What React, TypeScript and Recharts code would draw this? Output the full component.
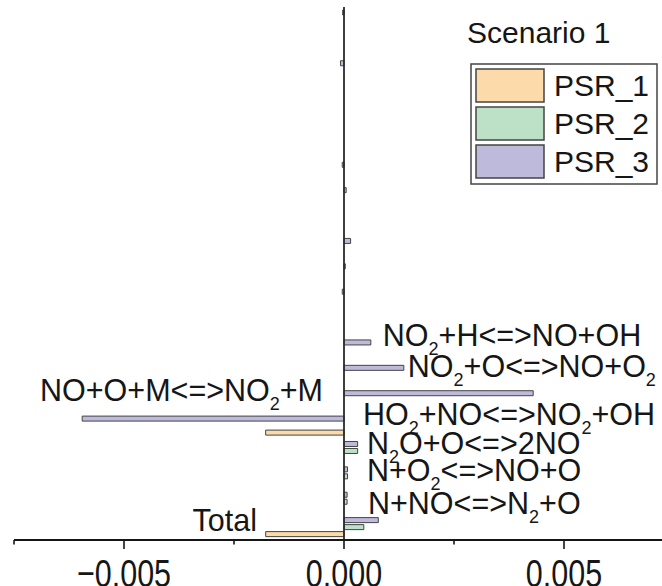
import React from 'react';
import { BarChart, Bar, XAxis, YAxis, ReferenceLine, LabelList } from 'recharts';

// categories from top to bottom; the unnamed ones are not labelled in the figure
const reactions = [
  'R1', 'R2', 'R3', 'R4', 'R5', 'R6', 'R7', 'R8', 'R9', 'R10', 'R11', 'R12', 'R13',
  'NO2+H<=>NO+OH',
  'NO2+O<=>NO+O2',
  'HO2+NO<=>NO2+OH',
  'NO+O+M<=>NO2+M',
  'N2O+O<=>2NO',
  'N+O2<=>NO+O',
  'N+NO<=>N2+O',
  'Total',
];

const psr1 = [0, 0, 0, 0, 0, 0, 0, 0, 0, 0, 0, 0, 0, 0, 0, 0, -0.00178, 0, 0, 0, -0.00178];
const psr2 = [0, 0, 0, 0, 0, 0, 0, 0, 0, 0, 0, 0, 0, 0, 0, 0, 0, 0.00031, 0.00008, 0.00007, 0.00045];
const psr3 = [
  -0.00003, 0, -0.00008, 0, 0, 0, -0.00004, 0.00005, 0, 0.00015, 0.00003, -0.00004, 0,
  0.00061, 0.00136, 0.0043, -0.00595, 0.00031, 0.00008, 0.00007, 0.00078,
];

const xTicks = [-0.0075, -0.005, -0.0025, 0, 0.0025, 0.005, 0.0075];
const majorTicks = [-0.005, 0, 0.005];

const series = [
  { key: 'PSR_1', color: '#FCDAAA' },
  { key: 'PSR_2', color: '#BCE1C6' },
  { key: 'PSR_3', color: '#BEBADC' },
];

const data = reactions.map((name, i) => ({
  name,
  PSR_1: psr1[i],
  PSR_2: psr2[i],
  PSR_3: psr3[i],
}));

const FONT = '"Liberation Sans", Arial, sans-serif';
const INK = '#161616';
const EDGE = '#444';

type Place = { from: 'zero' | 'end'; dx: number; dy: number; anchor: 'start' | 'end' };

// where each reaction name sits relative to its bar
const purplePlaces: Record<string, Place> = {
  'NO2+H<=>NO+OH': { from: 'end', dx: 12, dy: 3.4, anchor: 'start' },
  'NO2+O<=>NO+O2': { from: 'end', dx: 4, dy: 8.7, anchor: 'start' },
  'HO2+NO<=>NO2+OH': { from: 'zero', dx: 19, dy: 31.6, anchor: 'start' },
  'NO+O+M<=>NO2+M': { from: 'zero', dx: -21, dy: -18, anchor: 'end' },
  'N2O+O<=>2NO': { from: 'zero', dx: 23, dy: 9.8, anchor: 'start' },
  'N+O2<=>NO+O': { from: 'zero', dx: 23, dy: 12.1, anchor: 'start' },
  'N+NO<=>N2+O': { from: 'zero', dx: 24, dy: 19.1, anchor: 'start' },
};
const orangePlaces: Record<string, Place> = {
  Total: { from: 'end', dx: -8.7, dy: -3.3, anchor: 'end' },
};

// digits right after a letter are subscripts (NO2, N2O), a leading coefficient is not (2NO)
function formulaSpans(s: string) {
  const parts: { t: string; sub: boolean }[] = [];
  for (let i = 0; i < s.length; i++) {
    const ch = s[i];
    const sub = /\d/.test(ch) && i > 0 && /[A-Za-z]/.test(s[i - 1]);
    const last = parts[parts.length - 1];
    if (last && last.sub === sub) last.t += ch;
    else parts.push({ t: ch, sub });
  }
  const out: React.ReactNode[] = [];
  let shifted = false;
  parts.forEach((p, i) => {
    if (p.sub) {
      out.push(<tspan key={i} dy={9} fontSize={18}>{p.t}</tspan>);
      shifted = true;
    } else {
      out.push(<tspan key={i} dy={shifted ? -9 : 0}>{p.t}</tspan>);
      shifted = false;
    }
  });
  return out;
}

function BarLabel(props: any, places: Record<string, Place>) {
  const place = places[props.value];
  if (!place) return null;
  const vb = props.viewBox ?? props;
  const x = Number(vb.x);
  const w = Number(vb.width);
  const y = Number(vb.y);
  const h = Number(vb.height);
  const left = Math.min(x, x + w);
  const right = Math.max(x, x + w);
  const negative = w < 0 || props.value === 'NO+O+M<=>NO2+M' || props.value === 'Total';
  const zero = negative ? right : left;
  const end = negative ? left : right;
  const cy = y + h / 2;
  const bx = (place.from === 'zero' ? zero : end) + place.dx;
  return (
    <text
      key={props.value}
      x={bx}
      y={cy + place.dy}
      textAnchor={place.anchor}
      fontSize={30.5}
      fontFamily={FONT}
      fill={INK}
    >
      {formulaSpans(String(props.value))}
    </text>
  );
}

function fmt(v: number) {
  if (v === 0) return '0.000';
  return v < 0 ? `\u2212${Math.abs(v).toFixed(3)}` : v.toFixed(3);
}

// the tick numbers in the figure are drawn taller than wide and run off the bottom edge
function AxisTick(props: any) {
  const { x, y, payload } = props;
  const v = Number(payload.value);
  const major = majorTicks.some((m) => Math.abs(m - v) < 1e-9);
  return (
    <g>
      <line x1={x} x2={x} y1={y} y2={y + (major ? 9 : 4.5)} stroke={INK} strokeWidth={1.6} />
      {major && (
        <text
          transform={`translate(${x}, ${y + 47}) scale(1, 1.3)`}
          x={0}
          y={0}
          textAnchor="middle"
          fontSize={30.5}
          fontFamily={FONT}
          fill={INK}
        >
          {fmt(v)}
        </text>
      )}
    </g>
  );
}

export default function App() {
  return (
    <div
      style={{
        position: 'absolute',
        left: 0,
        top: 0,
        width: 662,
        height: 586,
        overflow: 'hidden',
        background: '#fff',
        fontFamily: FONT,
      }}
    >
      <BarChart
        width={680}
        height={586}
        data={data}
        layout="vertical"
        margin={{ top: 7, right: 6, bottom: 0, left: 14 }}
        barSize={5}
        barGap={2}
      >
        <XAxis
          type="number"
          domain={[-0.0075, 0.0075]}
          ticks={xTicks}
          interval={0}
          height={46}
          tickSize={0}
          tickMargin={0}
          tickLine={false}
          tick={AxisTick}
          allowDataOverflow
          axisLine={{ stroke: INK, strokeWidth: 2.2 }}
        />
        <XAxis
          xAxisId="top"
          orientation="top"
          type="number"
          domain={[-0.0075, 0.0075]}
          height={0}
          tick={false}
          tickLine={false}
          axisLine={{ stroke: INK, strokeWidth: 2.5 }}
        />
        <YAxis type="category" dataKey="name" hide />
        <ReferenceLine x={0} stroke="#2a2a2a" strokeWidth={1.8} />
        <Bar dataKey="PSR_3" fill="#BEBADC" stroke={EDGE} strokeWidth={1} isAnimationActive={false}>
          <LabelList dataKey="name" content={(p: any) => BarLabel(p, purplePlaces)} />
        </Bar>
        <Bar dataKey="PSR_2" fill="#BCE1C6" stroke={EDGE} strokeWidth={1} isAnimationActive={false} />
        <Bar dataKey="PSR_1" fill="#FCDAAA" stroke={EDGE} strokeWidth={1} isAnimationActive={false}>
          <LabelList dataKey="name" content={(p: any) => BarLabel(p, orangePlaces)} />
        </Bar>
      </BarChart>

      <svg
        width={662}
        height={586}
        style={{ position: 'absolute', left: 0, top: 0, pointerEvents: 'none' }}
      >
        <text x={467} y={43} fontSize={30} fontFamily={FONT} fill={INK}>
          Scenario 1
        </text>
        <rect x={471} y={64} width={186} height={120} fill="#fff" stroke={EDGE} strokeWidth={1.5} />
        {series.map((s, i) => (
          <g key={s.key}>
            <rect x={476} y={69 + i * 38} width={68} height={33} fill={s.color} stroke={EDGE} strokeWidth={1.5} />
            <text x={554} y={95.5 + i * 38} fontSize={30} fontFamily={FONT} fill={INK}>
              {s.key}
            </text>
          </g>
        ))}
      </svg>
    </div>
  );
}
